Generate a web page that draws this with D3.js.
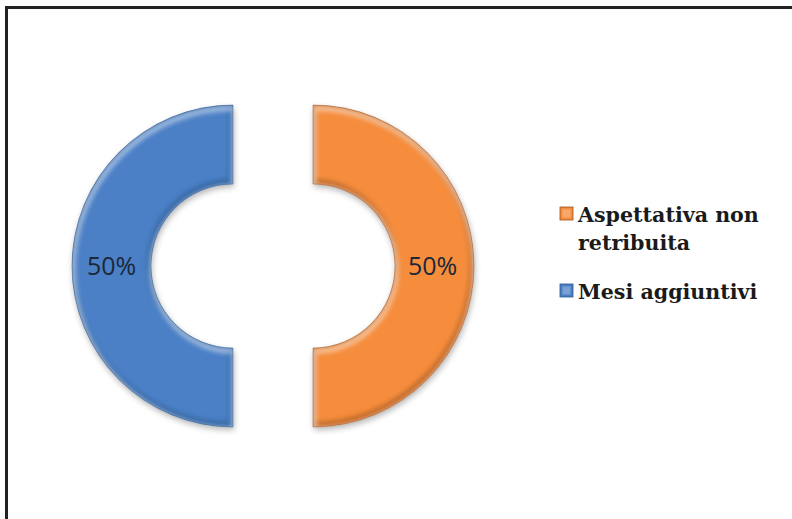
<!DOCTYPE html>
<html>
<head>
<meta charset="utf-8">
<script src="https://cdn.jsdelivr.net/npm/d3@7"></script>
<style>
  html, body { margin: 0; padding: 0; background: #ffffff; }
  svg { display: block; }
</style>
</head>
<body>
<svg id="chart" width="792" height="519"></svg>
<script>
// Chart data
const categories = ["Aspettativa non retribuita", "Mesi aggiuntivi"];
const values = [50, 50];
const legendLines = [["Aspettativa non", "retribuita"], ["Mesi aggiuntivi"]];
const colors = ["#f58d3c", "#4b80c6"];
const edgeColors = ["#9c5220", "#2a558a"];

const svg = d3.select("#chart");
const W = 792, H = 519;

// Frame (top and left edges of the chart box)
svg.append("rect").attr("x", 0).attr("y", 0).attr("width", W).attr("height", H).attr("fill", "#fff");
svg.append("line").attr("x1", 6.5).attr("y1", 7.5).attr("x2", W).attr("y2", 7.5)
  .attr("stroke", "#222").attr("stroke-width", 3);
svg.append("line").attr("x1", 6.5).attr("y1", 6).attr("x2", 6.5).attr("y2", H)
  .attr("stroke", "#222").attr("stroke-width", 3);

const defs = svg.append("defs");
// soft shadow under each slice
const shadow = defs.append("filter").attr("id", "shadow")
  .attr("x", "-20%").attr("y", "-20%").attr("width", "140%").attr("height", "140%");
shadow.append("feGaussianBlur").attr("in", "SourceAlpha").attr("stdDeviation", 3).attr("result", "b");
shadow.append("feOffset").attr("in", "b").attr("dx", 1).attr("dy", 3).attr("result", "o");
shadow.append("feComponentTransfer").attr("in", "o").attr("result", "s")
  .append("feFuncA").attr("type", "linear").attr("slope", 0.3);
const m = shadow.append("feMerge");
m.append("feMergeNode").attr("in", "s");
m.append("feMergeNode").attr("in", "SourceGraphic");

const soft = defs.append("filter").attr("id", "soft")
  .attr("x", "-10%").attr("y", "-10%").attr("width", "120%").attr("height", "120%");
soft.append("feGaussianBlur").attr("stdDeviation", 2.2);

const cx = 273, cy = 266;
const rOuter = 161, rInner = 82, explode = 40;

const pie = d3.pie().sort(null).value(d => d)(values);
const arc = d3.arc().innerRadius(rInner).outerRadius(rOuter);

const g = svg.append("g").attr("transform", `translate(${cx},${cy})`);
const slices = g.selectAll("g.slice").data(pie).enter().append("g")
  .attr("class", "slice")
  .attr("transform", d => {
    const a = (d.startAngle + d.endAngle) / 2;
    return `translate(${explode * Math.sin(a)},${-explode * Math.cos(a)})`;
  });

slices.each(function (d, i) {
  defs.append("clipPath").attr("id", "clip" + i).append("path").attr("d", arc(d));
});

// base fill with shadow
slices.append("path")
  .attr("d", arc)
  .attr("fill", (d, i) => colors[i])
  .attr("filter", "url(#shadow)");

// bevel: dark rim and light highlight inside the edges
const bevelG = slices.append("g").attr("clip-path", (d, i) => `url(#clip${i})`);
bevelG.append("path")
  .attr("d", arc)
  .attr("fill", "none")
  .attr("stroke", (d, i) => edgeColors[i])
  .attr("stroke-opacity", 0.55)
  .attr("stroke-width", 7)
  .attr("transform", "translate(-1,-2)")
  .attr("filter", "url(#soft)");
bevelG.append("path")
  .attr("d", arc)
  .attr("fill", "none")
  .attr("stroke", "#ffffff")
  .attr("stroke-opacity", 0.45)
  .attr("stroke-width", 6)
  .attr("transform", "translate(1,3)")
  .attr("filter", "url(#soft)");
slices.append("path")
  .attr("d", arc)
  .attr("fill", "none")
  .attr("stroke", (d, i) => edgeColors[i])
  .attr("stroke-opacity", 0.6)
  .attr("stroke-width", 0.8);

const total = d3.sum(values);
slices.append("text")
  .attr("transform", d => {
    const c = arc.centroid(d);
    return `translate(${c[0] - (d.index === 0 ? 2 : 0)},${c[1] + 9})`;
  })
  .attr("text-anchor", "middle")
  .attr("font-family", "'Open Sans', 'Noto Sans', sans-serif")
  .attr("font-size", 25)
  .attr("fill", "#1c2838")
  .text(d => Math.round(d.data / total * 100) + "%");

// Legend
const legend = svg.append("g");
const legendX = 560, legendY = [207, 284];
const legendFont = 20;
categories.forEach((c, i) => {
  legend.append("rect")
    .attr("x", legendX).attr("y", legendY[i])
    .attr("width", 13).attr("height", 13)
    .attr("fill", colors[i]).attr("stroke", edgeColors[i]).attr("stroke-width", 0.8);
  legend.append("rect")
    .attr("x", legendX + 2.5).attr("y", legendY[i] + 2.5)
    .attr("width", 8).attr("height", 8)
    .attr("fill", "#ffffff").attr("fill-opacity", 0.25);
  legendLines[i].forEach((line, j) => {
    legend.append("text")
      .attr("x", legendX + 18)
      .attr("y", legendY[i] + 15 + j * 28)
      .attr("font-family", "'DejaVu Serif', serif")
      .attr("font-weight", "bold")
      .attr("font-size", legendFont)
      .attr("fill", "#1a1a1a")
      .text(line);
  });
});

// fit the legend text to its box width
const first = legend.select("text").node();
const wFirst = first.getComputedTextLength();
const scale = 181 / wFirst;
legend.selectAll("text").attr("font-size", legendFont * scale);
</script>
</body>
</html>
